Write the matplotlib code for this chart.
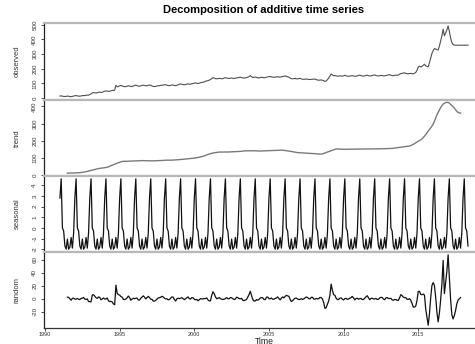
import numpy as np
import matplotlib.pyplot as plt

plt.rcParams['font.family'] = ['Liberation Sans', 'DejaVu Sans']

# monthly series, Jan 1991 - May 2018
start_year = 1991
observed = np.array([
    14, 16, 13, 12, 11, 12, 14, 13, 11, 10, 12, 14,              # 1991
    16, 18, 15, 14, 13, 15, 17, 18, 17, 19, 21, 20,              # 1992
    25, 28, 36, 38, 36, 35, 37, 40, 41, 39, 40, 44,              # 1993
    47, 50, 48, 46, 47, 50, 53, 52, 54, 88, 77, 79,              # 1994
    84, 86, 83, 80, 78, 79, 82, 84, 82, 79, 80, 83,              # 1995
    86, 89, 85, 82, 81, 84, 87, 88, 86, 84, 85, 88,              # 1996
    89, 88, 83, 80, 79, 80, 83, 84, 85, 87, 88, 89,              # 1997
    91, 92, 88, 86, 85, 87, 90, 89, 86, 85, 88, 91,              # 1998
    94, 97, 94, 93, 91, 93, 96, 97, 95, 96, 98, 100,             # 1999
    102, 104, 101, 100, 102, 105, 107, 108, 111, 115, 118, 119,  # 2000
    123, 127, 133, 140, 137, 133, 132, 133, 135, 134, 132, 133,  # 2001
    137, 140, 137, 135, 134, 136, 137, 135, 134, 136, 138, 139,  # 2002
    141, 143, 140, 138, 137, 138, 140, 143, 147, 153, 146, 141,  # 2003
    142, 144, 141, 139, 138, 140, 142, 141, 139, 140, 143, 145,  # 2004
    146, 148, 145, 143, 142, 143, 145, 146, 144, 143, 145, 148,  # 2005
    149, 152, 148, 146, 143, 137, 133, 132, 133, 134, 132, 131,  # 2006
    133, 135, 131, 129, 128, 129, 131, 129, 127, 127, 128, 129,  # 2007
    129, 130, 126, 124, 122, 123, 124, 122, 119, 114, 117, 126,  # 2008
    137, 150, 165, 158, 153, 154, 152, 150, 150, 152, 151, 150,  # 2009
    152, 156, 152, 150, 149, 150, 152, 153, 151, 149, 150, 152,  # 2010
    154, 157, 153, 151, 150, 152, 155, 156, 153, 151, 152, 154,  # 2011
    156, 158, 154, 152, 151, 153, 155, 154, 152, 152, 154, 156,  # 2012
    158, 160, 156, 154, 153, 155, 157, 156, 157, 163, 168, 169,  # 2013
    171, 173, 169, 167, 166, 168, 169, 167, 165, 170, 175, 190,  # 2014
    212, 218, 213, 217, 224, 231, 220, 216, 214, 242, 275, 305,  # 2015
    325, 338, 335, 330, 328, 355, 390, 425, 470, 425, 445, 465,  # 2016
    493, 455, 410, 379, 365, 362, 361, 361, 361, 361, 361, 361,  # 2017
    361, 361, 361, 361, 361,                                     # 2018
], dtype=float)

# seasonal figure, Jan..Dec
seasonal_figure = [2.8, 4.6, 0.0, -0.3, -1.7, -2.0, -1.05, -2.0, -1.8, -0.9, -1.9, -0.5]

months = np.arange(len(observed))
time = start_year + months / 12.0
seasonal = np.array(seasonal_figure)[months % 12]

# centred 2x12 moving average for the trend
weights = np.r_[0.5, np.ones(11), 0.5] / 12.0
trend = np.full(len(observed), np.nan)
trend[6:-6] = np.convolve(observed, weights, mode='valid')
random = observed - trend - seasonal

panels = [
    ('observed', observed, [0, 100, 200, 300, 400, 500], '#505050', 0.8),
    ('trend', trend, [0, 100, 200, 300, 400], '#7a7a7a', 1.0),
    ('seasonal', seasonal, [-2, -1, 0, 1, 2, 3, 4], '#111111', 0.9),
    ('random', random, [-20, 0, 20, 40, 60], '#111111', 0.9),
]

W, H = 475.0, 344.0
fig = plt.figure(figsize=(W / 100, H / 100), dpi=100)
fig.patch.set_facecolor('white')

x_lo = time[0] - 0.04 * (time[-1] - time[0])
x_hi = time[-1] + 0.04 * (time[-1] - time[0])
left_px = 45 + (x_lo - 1990) * 14.93
width_px = (x_hi - x_lo) * 14.93

edges = [23, 99.5, 176, 252, 328]
for i, (name, y, yticks, col, lw) in enumerate(panels):
    top, bot = edges[i], edges[i + 1]
    ax = fig.add_axes([left_px / W, 1 - bot / H, width_px / W, (bot - top) / H])
    ax.plot(time, y, color=col, lw=lw)
    lo, hi = np.nanmin(y), np.nanmax(y)
    pad = 0.04 * (hi - lo)
    ax.set_ylim(lo - pad, hi + pad)
    ax.set_xlim(x_lo, x_hi)
    ax.set_yticks(yticks)
    ax.set_yticklabels([str(v) for v in yticks])
    ax.tick_params(axis='y', labelsize=4.5, length=2.5, width=0.6, pad=2,
                   labelrotation=90, colors='#333333')
    for lab in ax.get_yticklabels():
        lab.set_va('center')
    for side in ('top', 'bottom', 'right'):
        ax.spines[side].set_color('#b8b8b8')
        ax.spines[side].set_linewidth(1.6)
    ax.spines['left'].set_color('#222222')
    ax.spines['left'].set_linewidth(0.9)
    if name == 'random':
        ax.spines['bottom'].set_color('#333333')
        ax.spines['bottom'].set_linewidth(0.9)
        ax.set_xticks([1990, 1995, 2000, 2005, 2010, 2015])
        ax.tick_params(axis='x', labelsize=4.0, length=2.2, width=0.6, pad=0.8,
                       colors='#333333')
    else:
        ax.set_xticks([])
    fig.text(17 / W, 1 - (top + bot) / 2 / H, name, rotation=90, ha='center',
             va='center', fontsize=5.5, color='#333333')

fig.text((left_px + width_px / 2) / W, 1 - 10 / H,
         'Decomposition of additive time series', ha='center', va='center',
         fontsize=8.0, fontweight='bold')
fig.text((left_px + width_px / 2) / W, 1 - 341.3 / H, 'Time', ha='center',
         va='center', fontsize=6.2, color='#222222')

fig.savefig('out.png', dpi=100)
